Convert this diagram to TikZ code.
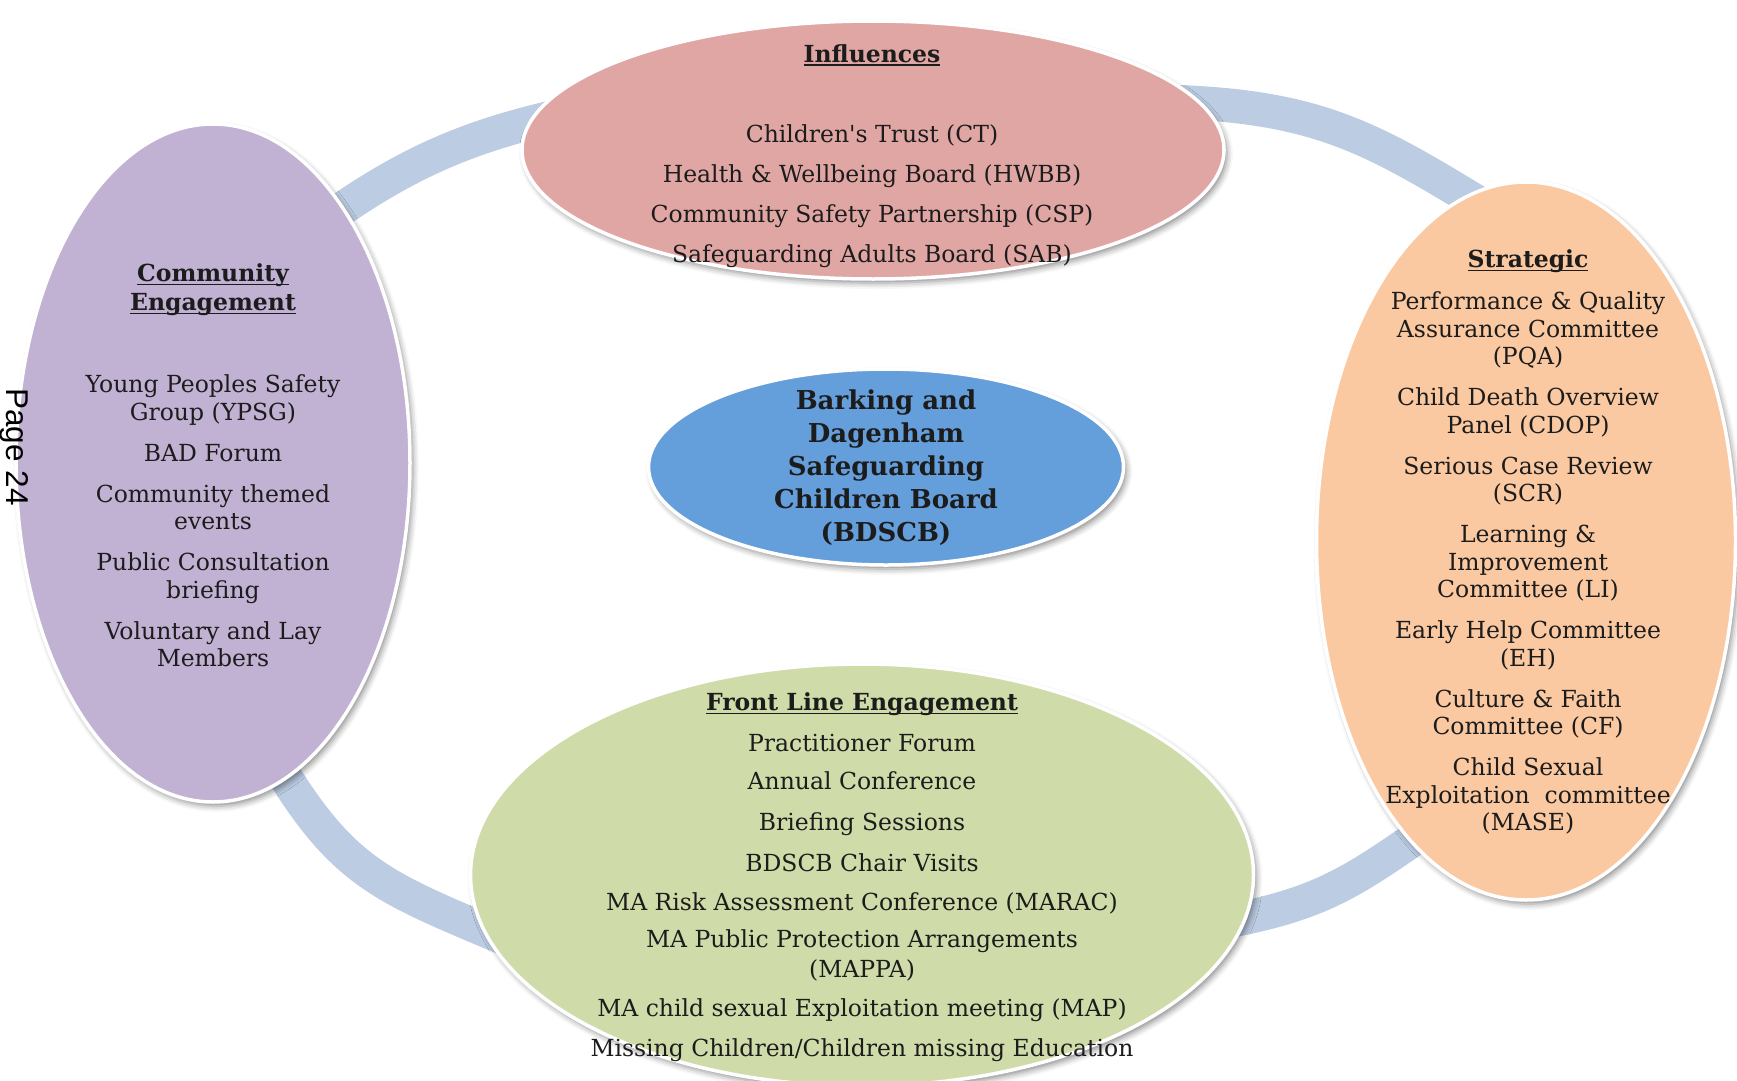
\documentclass[tikz,border=0pt]{standalone}
\usepackage{fontspec}
\setmainfont{DejaVu Serif}
\newfontfamily\pagefont{Liberation Sans}
\usetikzlibrary{shapes.geometric,shadows.blur}
\definecolor{ringc}{RGB}{188,204,226}
\definecolor{pinkc}{RGB}{224,166,164}
\definecolor{purplec}{RGB}{193,177,211}
\definecolor{orangec}{RGB}{250,201,161}
\definecolor{greenc}{RGB}{207,220,169}
\definecolor{bluec}{RGB}{101,159,219}
\definecolor{txt}{RGB}{28,28,28}
\newcommand\myul[1]{\setbox0\hbox{#1}\rlap{\rule[-3.5pt]{\wd0}{1.6pt}}\box0}
\tikzset{
  blob/.style={ellipse, draw=white, line width=3.5pt, inner sep=0pt,
    blur shadow={shadow xshift=3pt, shadow yshift=-4pt, shadow blur radius=6pt, shadow opacity=45}},
  lbl/.style={align=center, anchor=north, inner sep=0pt, text=txt,
    font=\fontsize{23.5pt}{27.5pt}\selectfont},
  ringline/.style={draw=ringc, line width=34pt},
}
\begin{document}
\begin{tikzpicture}[x=1pt,y=-1pt]
\useasboundingbox (0,0) rectangle (1737,1081);
% ring (four visible arcs of the cycle, ends hidden under the ellipses)
\draw[ringline] (315,228) .. controls (404,163) and (468,135) .. (576,112);
\draw[ringline] (1179,102) .. controls (1329,108) and (1380,143) .. (1508,221);
\draw[ringline] (268,748) .. controls (343,878) and (382,886) .. (520,945);
\draw[ringline] (1208,925) .. controls (1321,905) and (1347,886) .. (1441,820);
% ellipses
\node[blob, fill=pinkc, minimum width=702pt, minimum height=258pt] (infl) at (873,150) {};
\node[blob, fill=purplec, minimum width=394pt, minimum height=678pt] (comm) at (213,463) {};
\node[blob, fill=orangec, minimum width=419pt, minimum height=718pt] (strat) at (1526,541) {};
\node[blob, fill=greenc, minimum width=783pt, minimum height=422pt] (front) at (862,875) {};
\node[blob, fill=bluec, minimum width=475pt, minimum height=196pt] (board) at (886,467) {};
% texts
\node[lbl, font=\fontsize{23.5pt}{40pt}\selectfont] (inflt) at (872,44) {\myul{\bfseries Influences}\\[40pt]
Children\textquotesingle s Trust (CT)\\
Health \& Wellbeing Board (HWBB)\\
Community Safety Partnership (CSP)\\
Safeguarding Adults Board (SAB)};
\node[lbl] (commt) at (213,263.6) {\myul{\bfseries Community}\\[1.5pt]\myul{\bfseries Engagement}\\[54.5pt]
Young Peoples Safety\\Group (YPSG)\\[13.5pt]
BAD Forum\\[13.5pt]
Community themed\\events\\[13.5pt]
Public Consultation\\briefing\\[13.5pt]
Voluntary and Lay\\Members};
\node[lbl] (stratt) at (1528,249.6) {\myul{\bfseries Strategic}\\[14.5pt]
Performance \& Quality\\Assurance Committee\\(PQA)\\[13.5pt]
Child Death Overview\\Panel (CDOP)\\[13.5pt]
Serious Case Review\\(SCR)\\[13.5pt]
Learning \&\\Improvement\\Committee (LI)\\[13.5pt]
Early Help Committee\\(EH)\\[13.5pt]
Culture \& Faith\\Committee (CF)\\[13.5pt]
Child Sexual\\Exploitation~ committee\\(MASE)};
\node[lbl, font=\fontsize{23.5pt}{29pt}\selectfont] (frontt) at (862,692.6) {\myul{\bfseries Front Line Engagement}\\[12pt]
Practitioner Forum\\[9pt]
Annual Conference\\[12pt]
Briefing Sessions\\[12pt]
BDSCB Chair Visits\\[10pt]
MA Risk Assessment Conference (MARAC)\\[8pt]
MA Public Protection Arrangements\\[1pt](MAPPA)\\[10pt]
MA child sexual Exploitation meeting (MAP)\\[11pt]
Missing Children/Children missing Education};
\node[lbl, font=\fontsize{26pt}{33pt}\selectfont\bfseries] (boardt) at (886,389.6) {Barking and\\Dagenham\\Safeguarding\\Children Board\\(BDSCB)};
\node[rotate=-90, anchor=base, inner sep=0pt, font=\pagefont\fontsize{31.5pt}{31.5pt}\selectfont] (pg) at (6,447) {Page 24};
\end{tikzpicture}
\end{document}
